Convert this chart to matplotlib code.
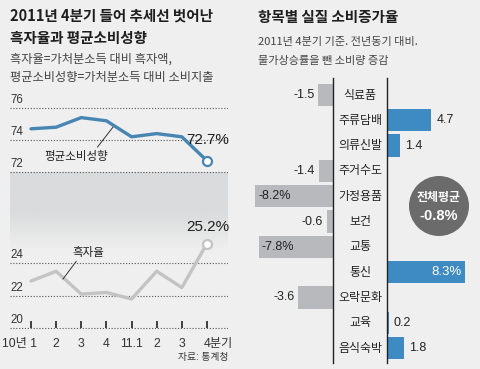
import numpy as np
import matplotlib
matplotlib.use("Agg")
import matplotlib.pyplot as plt
from matplotlib.patches import Ellipse
from matplotlib.transforms import blended_transform_factory

plt.rcParams['font.family'] = ['Liberation Sans', 'Noto Sans CJK KR', 'DejaVu Sans']

# 왼쪽: 흑자율 / 평균소비성향 (분기별, %)
quarters = ['10년 1', '2', '3', '4', '11.1', '2', '3', '4분기']
consume_rate = [74.7, 74.8, 75.4, 75.2, 74.2, 74.4, 74.2, 72.7]
surplus_rate = [22.9, 23.5, 22.1, 22.2, 21.8, 23.5, 22.5, 25.2]
upper_ticks = [72, 74, 76]
lower_ticks = [20, 22, 24]

# 오른쪽: 항목별 실질 소비증가율 (%)
items = ['식료품', '주류담배', '의류신발', '주거수도', '가정용품', '보건',
         '교통', '통신', '오락문화', '교육', '음식숙박']
growth = [-1.5, 4.7, 1.4, -1.4, -8.2, -0.6, -7.8, 8.3, -3.6, 0.2, 1.8]
avg_growth = -0.8

W, H = 480, 369
BG = '#efefef'
BLUE = '#4786b3'
BAR_BLUE = '#3d8bc2'
LGRAY = '#c3c3c3'
BAR_GRAY = '#b7b9bc'
DARK = '#1e1e1e'
KR = ['Noto Sans CJK KR', 'DejaVu Sans']


def box(x0, y0, x1, y1):
    # pixel box -> figure rect
    return [x0 / W, 1 - y1 / H, (x1 - x0) / W, (y1 - y0) / H]


def px(x, y):
    return x / W, 1 - y / H


fig = plt.figure(figsize=(W / 100, H / 100), dpi=100, facecolor=BG)

""" titles """
fig.text(*px(10, 16), '2011년 4분기 들어 추세선 벗어난', fontsize=10.5, fontweight='bold',
         color=DARK, va='center', ha='left', family=KR)
fig.text(*px(10, 38.5), '흑자율과 평균소비성향', fontsize=10.5, fontweight='bold',
         color=DARK, va='center', ha='left', family=KR)
fig.text(*px(10, 59), '흑자율=가처분소득 대비 흑자액,', fontsize=8.8, color='#444444',
         va='center', ha='left', family=KR)
fig.text(*px(10, 78), '평균소비성향=가처분소득 대비 소비지출', fontsize=8.8, color='#444444',
         va='center', ha='left', family=KR)

fig.text(*px(258, 17), '항목별 실질 소비증가율', fontsize=10.5, fontweight='bold',
         color=DARK, va='center', ha='left', family=KR)
fig.text(*px(258, 42), '2011년 4분기 기준. 전년동기 대비.', fontsize=8, color='#444444',
         va='center', ha='left', family=KR)
fig.text(*px(258, 61), '물가상승률을 뺀 소비량 증감', fontsize=8, color='#444444',
         va='center', ha='left', family=KR)

""" gray band between the two line panels """
ax_band = fig.add_axes(box(10, 172, 228, 250))
grad = np.concatenate([np.full(40, 0.0), np.linspace(0, 1, 38)])[:, None]
ax_band.imshow(grad, aspect='auto', cmap=matplotlib.colors.LinearSegmentedColormap.from_list(
    'band', ['#dadbdc', BG]), extent=[0, 1, 0, 1], interpolation='bilinear')
ax_band.axis('off')

x = np.arange(len(quarters))
xlim = (-0.835, 7.836)
dots = (0, (1, 1.6))

""" upper: 평균소비성향 """
ax_u = fig.add_axes(box(10, 100, 228, 180), facecolor='none')
ax_u.set_xlim(*xlim)
ax_u.set_ylim(71.5, 76.5)
for t in upper_ticks:
    ax_u.axhline(t, color='#555555', lw=0.8, ls=dots, zorder=1)
    ax_u.text(0, t + 0.12, str(t), transform=ax_u.get_yaxis_transform(),
              fontsize=8.3, color='#333333', ha='left', va='bottom')
ax_u.plot(x, consume_rate, color=BLUE, lw=2.4, solid_joinstyle='round',
          solid_capstyle='round', zorder=3, clip_on=False)
ax_u.plot(x[-1], consume_rate[-1], 'o', ms=6.5, mfc='white', mec=BLUE, mew=1.6,
          zorder=4, clip_on=False)
ax_u.annotate(f'{consume_rate[-1]}%', (x[-1], consume_rate[-1]), xytext=(16, 15),
              textcoords='offset points', ha='right', va='center', fontsize=11,
              color=DARK)
ax_u.annotate('평균소비성향', (3.26, 74.8), xytext=(-26.5, -21), textcoords='offset points',
              ha='center', va='center', fontsize=8.3, color='#222222', family=KR,
              arrowprops=dict(arrowstyle='-', color='#333333', lw=0.7,
                              shrinkA=0, shrinkB=0, relpos=(0.8, 1.0)))
ax_u.axis('off')

""" lower: 흑자율 """
ax_l = fig.add_axes(box(10, 230.5, 228, 336.5), facecolor='none')
ax_l.set_xlim(*xlim)
ax_l.set_ylim(19.5, 26.0)
for t in lower_ticks:
    ax_l.axhline(t, color='#555555', lw=0.8, ls=dots, zorder=1)
    ax_l.text(0, t + 0.12, str(t), transform=ax_l.get_yaxis_transform(),
              fontsize=8.3, color='#333333', ha='left', va='bottom')
ax_l.vlines(x, lower_ticks[0] + 0.05, lower_ticks[0] + 0.45, colors='#222222',
            linewidths=1.2, zorder=5, clip_on=False)
ax_l.plot(x, surplus_rate, color=LGRAY, lw=2.4, solid_joinstyle='round',
          solid_capstyle='round', zorder=3, clip_on=False)
ax_l.plot(x[-1], surplus_rate[-1], 'o', ms=6.5, mfc='white', mec=LGRAY, mew=1.6,
          zorder=4, clip_on=False)
ax_l.annotate(f'{surplus_rate[-1]}%', (x[-1], surplus_rate[-1]), xytext=(16, 12),
              textcoords='offset points', ha='right', va='center', fontsize=11,
              color=DARK)
ax_l.annotate('흑자율', (1.27, 23.02), xytext=(18, 19.5), textcoords='offset points',
              ha='center', va='center', fontsize=8.3, color='#222222', family=KR,
              arrowprops=dict(arrowstyle='-', color='#333333', lw=0.7,
                              shrinkA=0, shrinkB=0, relpos=(0.2, 0.0)))
for i, lbl in enumerate(quarters):
    ha, dx = 'center', 0
    if i == 0:
        ha, dx = 'right', 4.5
    elif i == len(quarters) - 1:
        ha, dx = 'left', -2.5
    ax_l.annotate(lbl, (x[i], 0), xycoords=('data', 'axes fraction'), xytext=(dx, -1),
                  textcoords='offset points', ha=ha, va='top', fontsize=8.8, color='#333333')
ax_l.axis('off')

fig.text(*px(228, 357), '자료: 통계청', fontsize=7, color='#333333', ha='right', va='center')

""" right: split bar chart """
scale = 9.45  # px per 1%p
rows = np.arange(len(items))
ylim = (10.59, -0.672)
g = np.array(growth)
neg = g < 0

ax_n = fig.add_axes(box(250, 78, 332.5, 363), facecolor='none')
ax_n.set_xlim(-82.5 / scale, 0)
ax_n.set_ylim(*ylim)
ax_n.barh(rows[neg], g[neg], height=0.88, color=BAR_GRAY, zorder=2)

ax_p = fig.add_axes(box(387, 78, 478, 363), facecolor='none')
ax_p.set_xlim(0, 91 / scale)
ax_p.set_ylim(*ylim)
ax_p.barh(rows[~neg], g[~neg], height=0.88, color=BAR_BLUE, zorder=2)

for a, side in ((ax_n, 'right'), (ax_p, 'left')):
    for s in a.spines:
        a.spines[s].set_visible(s == side)
    a.spines[side].set_color('#222222')
    a.spines[side].set_linewidth(1.0)
    a.set_xticks([])
    a.set_yticks([])

for r, v in zip(rows, g):
    big = abs(v) > 5
    txt = f'{v:.1f}' + ('%' if big else '')
    if v < 0:
        if big:
            ax_n.text(v + 3 / scale, r, txt, ha='left', va='center', fontsize=9,
                      color='#222222', zorder=3)
        else:
            ax_n.text(v - 4 / scale, r, txt, ha='right', va='center', fontsize=9,
                      color='#222222')
    else:
        if big:
            ax_p.text(v - 4 / scale, r, txt, ha='right', va='center', fontsize=9.5,
                      color='white', zorder=3)
        else:
            ax_p.text(v + 5 / scale, r, txt, ha='left', va='center', fontsize=9,
                      color='#222222')

tr = blended_transform_factory(fig.transFigure, ax_n.transData)
for r, name in zip(rows, items):
    ax_n.text(360 / W, r, name, transform=tr, ha='center', va='center', fontsize=8.6,
              color='#222222', clip_on=False, family=KR)

cx, cy = px(439, 206)
fig.patches.append(Ellipse((cx, cy), 60 / W, 60 / H, transform=fig.transFigure,
                           facecolor='#6b6b6b', edgecolor='none', zorder=5))
fig.text(*px(439, 197), '전체평균', fontsize=8.6, fontweight='bold', color='white',
         ha='center', va='center', zorder=6, family=KR)
fig.text(*px(439, 216), f'{avg_growth:.1f}%', fontsize=10.5, fontweight='bold',
         color='white', ha='center', va='center', zorder=6)

fig.savefig('out.png', dpi=100, facecolor=BG)
